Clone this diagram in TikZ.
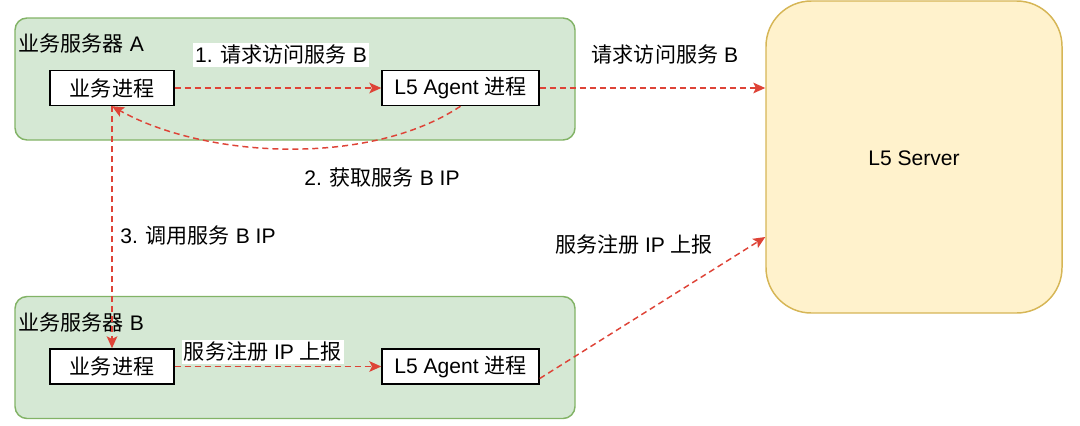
\documentclass[tikz,border=0pt]{standalone}
\usepackage{fontspec}
\setmainfont{Liberation Sans}
\newfontfamily\cjkfont{Noto Sans CJK SC}
\newcommand\zh[1]{{\cjkfont #1}}
\usetikzlibrary{arrows.meta,calc}
\definecolor{grfill}{HTML}{D5E8D4}
\definecolor{grline}{HTML}{82B366}
\definecolor{ylfill}{HTML}{FFF2CC}
\definecolor{ylline}{HTML}{D6B656}
\definecolor{arrred}{RGB}{222,67,55}
\newcommand\txtsize{\fontsize{15.8pt}{18pt}\selectfont}
\tikzset{
  server/.style={draw=grline, fill=grfill, line width=1.1pt, rounded corners=9pt,
    minimum width=420pt, minimum height=91.5pt, inner sep=0pt},
  proc/.style={draw=black, fill=white, line width=1.1pt, minimum height=26.25pt, inner sep=0pt, font=\txtsize},
  l5box/.style={draw=ylline, fill=ylfill, line width=1.1pt, rounded corners=34pt,
    minimum width=222pt, minimum height=234pt, inner sep=0pt},
  flow/.style={draw=arrred, line width=1.1pt, dash pattern=on 4.5pt off 3pt,
    -{Stealth[length=9pt,width=8pt,inset=2pt]}},
  lbl/.style={inner sep=1pt, font=\txtsize},
  wlbl/.style={lbl, fill=white, inner sep=1.5pt},
}
\begin{document}
\begin{tikzpicture}[x=0.75pt,y=-0.75pt]
\useasboundingbox (0,0) rectangle (1080,425);
% containers
\node[server] (srvA) at (295,79) {};
\node[server] (srvB) at (295,357.5) {};
\node[l5box] (l5) at (914,157) {};
\node[lbl] (l5t) at (914,158) {L5 Server};
\node[lbl, anchor=west] (srvAt) at (17,43) {\zh{业务服务器} A};
\node[lbl, anchor=west] (srvBt) at (17,322) {\zh{业务服务器} B};
% processes
\node[proc, minimum width=93pt] (procA) at (112,88) {\zh{业务进程}};
\node[proc, minimum width=117.75pt] (agentA) at (460.5,88) {L5 Agent \zh{进程}};
\node[proc, minimum width=93pt] (procB) at (112,366.5) {\zh{业务进程}};
\node[proc, minimum width=117.75pt] (agentB) at (460.5,366.5) {L5 Agent \zh{进程}};
% arrows
\draw[flow] (procA) -- (agentA);
\draw[flow] (agentA.east) -- (agentA.east -| l5.west);
\draw[flow] (agentA.south) .. controls +(-90,60) and +(95,53) .. (procA.south);
\draw[flow] (procA.south) -- (procB.north);
\draw[flow] (procB) -- (agentB);
\draw[flow] ($(agentB.east)+(0,12)$) -- ($(l5.west)+(0,80)$);
% labels
\node[wlbl] (l1) at (281,55) {1. \zh{请求访问服务} B};
\node[lbl] (l1b) at (665,55) {\zh{请求访问服务} B};
\node[lbl] (l2) at (382,178) {2. \zh{获取服务} B IP};
\node[lbl] (l3) at (198,236) {3. \zh{调用服务} B IP};
\node[lbl] (l4) at (634,245) {\zh{服务注册} IP \zh{上报}};
\node[wlbl] (l5l) at (263,352) {\zh{服务注册} IP \zh{上报}};
\end{tikzpicture}
\end{document}
